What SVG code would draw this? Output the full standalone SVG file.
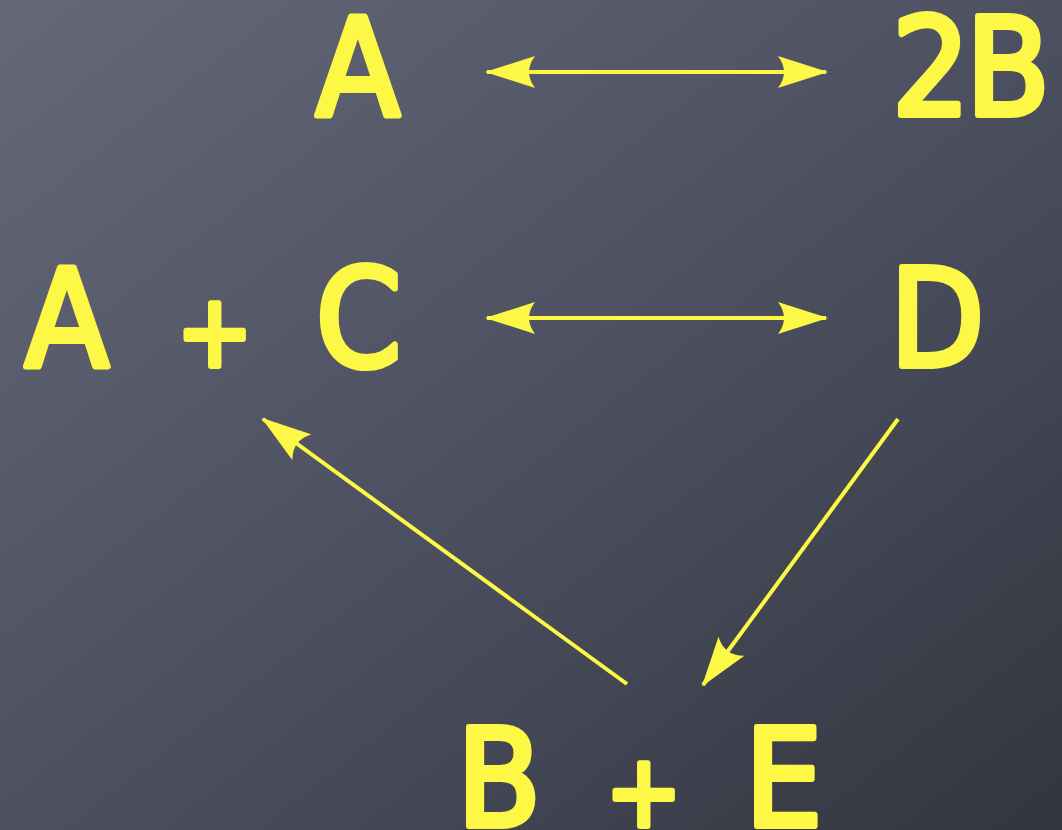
<svg xmlns="http://www.w3.org/2000/svg" width="1062" height="830" viewBox="0 0 1062 830">
<defs>
<linearGradient id="bg" x1="0" y1="0" x2="1" y2="1">
<stop offset="0" stop-color="#646879"/>
<stop offset="0.5" stop-color="#4d5060"/>
<stop offset="1" stop-color="#33363f"/>
</linearGradient>
<marker id="head" viewBox="0 0 50 32" refX="48" refY="16" markerWidth="50" markerHeight="32" markerUnits="userSpaceOnUse" orient="auto-start-reverse">
<path d="M0,0 L50,16 L0,32 Q12,16 0,0 Z" fill="#fcf845"/>
</marker>
<style>
.lbl{font-family:"DejaVu Sans Condensed","DejaVu Sans","Liberation Sans",sans-serif;font-size:136px;fill:#fcf845;stroke:#fcf845;stroke-width:6;stroke-linejoin:round;stroke-linecap:round}
.pl{font-size:100px}
.con{stroke:#fcf845;stroke-width:4;fill:none}
</style>
</defs>
<rect width="1062" height="830" fill="url(#bg)"/>
<g id="connectors">
<line class="con" x1="487" y1="72" x2="826" y2="72" marker-start="url(#head)" marker-end="url(#head)"/>
<line class="con" x1="487" y1="318" x2="826" y2="318" marker-start="url(#head)" marker-end="url(#head)"/>
<line class="con" x1="898" y1="419" x2="703" y2="685" marker-end="url(#head)"/>
<line class="con" x1="627" y1="684" x2="263" y2="419" marker-end="url(#head)"/>
</g>
<g id="node-A"><text class="lbl" x="316" y="115">A</text></g>
<g id="node-2B"><text class="lbl" x="892 966" y="115">2B</text></g>
<g id="node-AC"><text class="lbl" y="366"><tspan x="25">A</tspan><tspan class="pl" x="177">+</tspan><tspan x="316">C</tspan></text></g>
<g id="node-D"><text class="lbl" x="890" y="366">D</text></g>
<g id="node-BE"><text class="lbl" y="826"><tspan x="457">B</tspan><tspan class="pl" x="606">+</tspan><tspan x="745">E</tspan></text></g>
</svg>
